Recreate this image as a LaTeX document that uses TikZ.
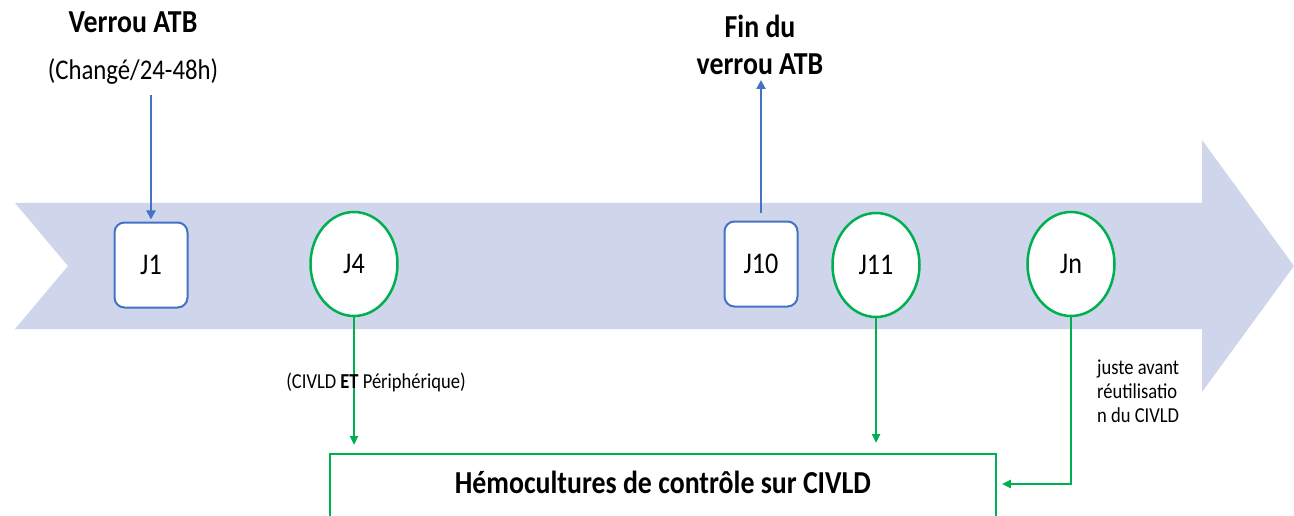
\documentclass[tikz,border=0pt]{standalone}
\usepackage{fontspec}
\setmainfont{Carlito}[FakeStretch=0.87]
\usetikzlibrary{shapes.geometric,arrows.meta}
\definecolor{band}{HTML}{CFD5EA}
\definecolor{bblue}{HTML}{4472C4}
\definecolor{ggreen}{HTML}{00B050}
\tikzset{
  dayrect/.style={draw=bblue, line width=2pt, fill=white, rounded corners=10pt, minimum width=73pt, minimum height=85pt, inner sep=0pt, font=\fontsize{30}{34}\selectfont},
  dayell/.style={ellipse, draw=ggreen, line width=2.5pt, fill=white, minimum width=87pt, minimum height=104pt, inner sep=0pt, font=\fontsize{30}{34}\selectfont},
  barrow/.style={draw=bblue, line width=2.8pt, -{Triangle[length=9pt,width=9pt]}},
  garrow/.style={draw=ggreen, line width=2.5pt, -{Triangle[length=9pt,width=8pt]}},
  bigtitle/.style={font=\bfseries\fontsize{32}{37}\selectfont, align=center, inner sep=0pt},
  small/.style={font=\fontsize{21.3}{24}\selectfont, inner sep=0pt},
  mid/.style={font=\fontsize{28.5}{32}\selectfont, inner sep=0pt},
}
\begin{document}
\begin{tikzpicture}[x=1pt,y=-1pt]
\useasboundingbox (0,0) rectangle (1294,516);
\clip (0,0) rectangle (1294,516);
% timeline arrow
\fill[band] (15,203) -- (1202,203) -- (1202,140) -- (1294,266) -- (1202,392) -- (1202,329) -- (15,329) -- (68,266) -- cycle;
% day markers
\node[dayrect] (J1) at (151,265) {J1};
\node[dayell] (J4) at (354,264) {J4};
\node[dayrect] (J10) at (761,264) {J10};
\node[dayell] (J11) at (876,265) {J11};
\node[dayell] (Jn) at (1071,264) {Jn};
% top labels
\node[bigtitle] (verrou) at (133,22) {Verrou ATB};
\node[mid] (change) at (133,72) {(Changé/24-48h)};
\node[bigtitle] (fin) at (760,45) {Fin du\\verrou ATB};
\coordinate (j1src) at (151,95);
\coordinate (j10dst) at (761,80);
\draw[barrow] (j1src) -- ([yshift=2pt]J1.north);
\draw[barrow] ([yshift=8pt]J10.north) -- (j10dst);
% bottom box
\node[draw=ggreen, line width=1.8pt, anchor=north west, minimum width=666pt, inner xsep=0pt, inner ysep=0pt, text height=40pt, text depth=40pt, font=\bfseries\fontsize{32}{36}\selectfont] (box) at (329,453) {Hémocultures de contrôle sur CIVLD};
% green connectors
\draw[garrow] (J4.south) -- ([yshift=8pt]J4.south |- box.north);
\draw[garrow] (J11.south) -- ([yshift=10pt]J11.south |- box.north);
\coordinate (jnturn) at (1071,484);
\draw[garrow, line width=2.8pt] (Jn.south) -- (jnturn) -- ([xshift=5pt]box.east |- jnturn);
% small labels
\node[small] (civld) at (376,382) {(CIVLD \textbf{ET} Périphérique)};
\node[small, anchor=west, align=left] (juste) at (1097,391) {juste avant\\réutilisatio\\n du CIVLD};
\end{tikzpicture}
\end{document}
